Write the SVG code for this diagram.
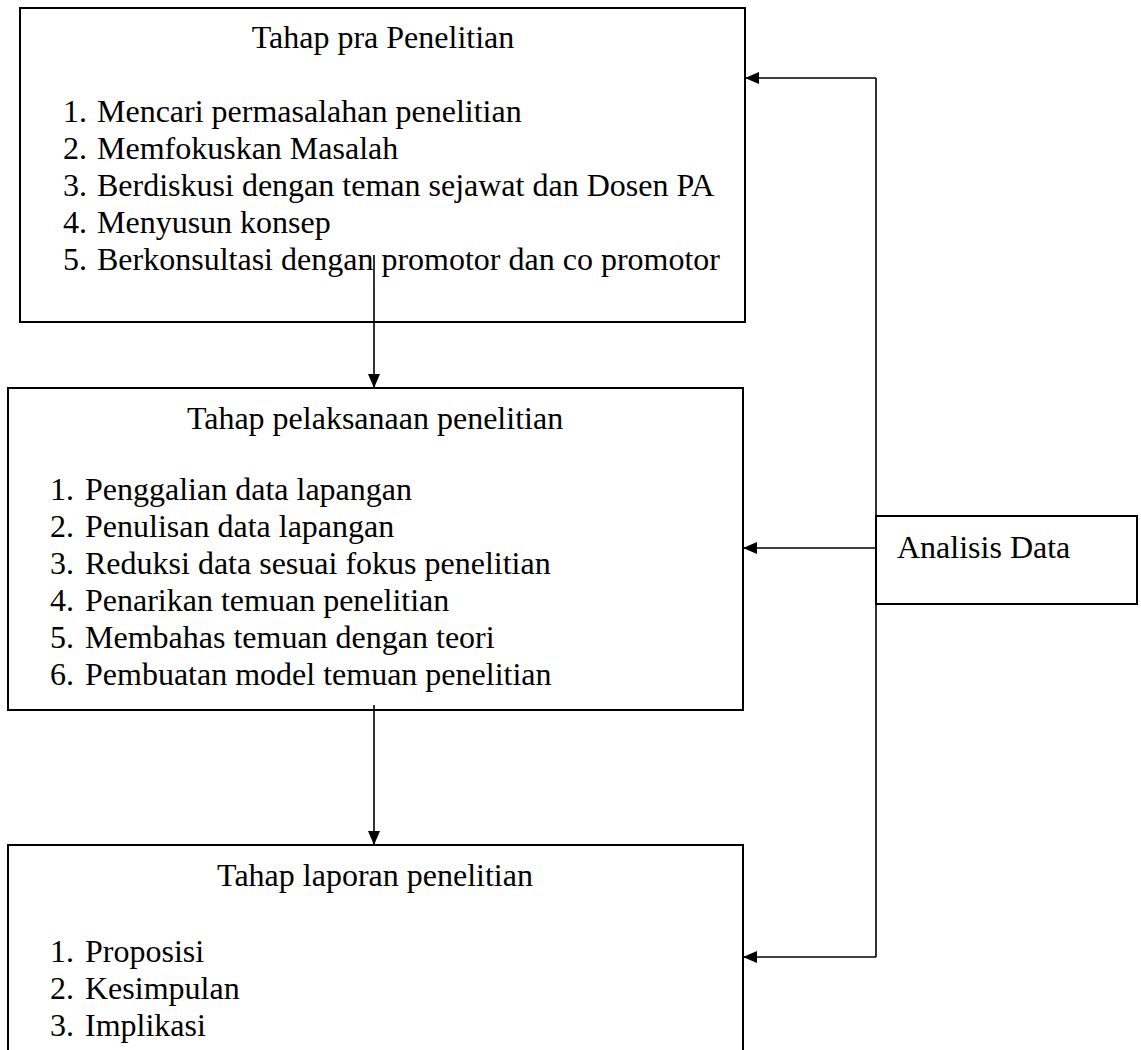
<svg xmlns="http://www.w3.org/2000/svg" width="1141" height="1050" viewBox="0 0 1141 1050">
<style>
.box{fill:#fff;stroke:#000;stroke-width:2}
.t{font-family:"Liberation Serif","Times New Roman",serif;font-size:32px;fill:#000}
.c{text-anchor:middle}
.ln{stroke:#000;stroke-width:1.6;fill:none}
</style>
<defs>
<marker id="ah" markerWidth="14" markerHeight="12" refX="14" refY="6" orient="auto" markerUnits="userSpaceOnUse">
<path d="M0,0 L14,6 L0,12 Z" fill="#000"/>
</marker>
</defs>
<rect width="1141" height="1050" fill="#fff"/>
<g id="node-pra">
<rect class="box" x="20" y="8" width="725" height="314"/>
<text class="t c" x="383" y="48">Tahap pra Penelitian</text>
<text class="t" x="63" y="122">1.</text><text class="t" x="97" y="122">Mencari permasalahan penelitian</text>
<text class="t" x="63" y="159">2.</text><text class="t" x="97" y="159">Memfokuskan Masalah</text>
<text class="t" x="63" y="196">3.</text><text class="t" x="97" y="196">Berdiskusi dengan teman sejawat dan Dosen PA</text>
<text class="t" x="63" y="233">4.</text><text class="t" x="97" y="233">Menyusun konsep</text>
<text class="t" x="63" y="270">5.</text><text class="t" x="97" y="270">Berkonsultasi dengan promotor dan co promotor</text>
</g>
<g id="node-pelaksanaan">
<rect class="box" x="8" y="388" width="735" height="322"/>
<text class="t c" x="375" y="429">Tahap pelaksanaan penelitian</text>
<text class="t" x="50" y="500">1.</text><text class="t" x="85" y="500">Penggalian data lapangan</text>
<text class="t" x="50" y="537">2.</text><text class="t" x="85" y="537">Penulisan data lapangan</text>
<text class="t" x="50" y="574">3.</text><text class="t" x="85" y="574">Reduksi data sesuai fokus penelitian</text>
<text class="t" x="50" y="611">4.</text><text class="t" x="85" y="611">Penarikan temuan penelitian</text>
<text class="t" x="50" y="648">5.</text><text class="t" x="85" y="648">Membahas temuan dengan teori</text>
<text class="t" x="50" y="685">6.</text><text class="t" x="85" y="685">Pembuatan model temuan penelitian</text>
</g>
<g id="node-laporan">
<rect class="box" x="8" y="845" width="735" height="215"/>
<text class="t c" x="375" y="886">Tahap laporan penelitian</text>
<text class="t" x="50" y="962">1.</text><text class="t" x="85" y="962">Proposisi</text>
<text class="t" x="50" y="999">2.</text><text class="t" x="85" y="999">Kesimpulan</text>
<text class="t" x="50" y="1036">3.</text><text class="t" x="85" y="1036">Implikasi</text>
</g>
<g id="node-analisis">
<rect class="box" x="876" y="516" width="261" height="88"/>
<text class="t" x="897" y="558">Analisis Data</text>
</g>
<g id="connectors">
<line class="ln" x1="374" y1="255" x2="374" y2="388" marker-end="url(#ah)"/>
<line class="ln" x1="374" y1="705" x2="374" y2="845" marker-end="url(#ah)"/>
<line class="ln" x1="876" y1="78" x2="876" y2="957"/>
<line class="ln" x1="876" y1="78" x2="745" y2="78" marker-end="url(#ah)"/>
<line class="ln" x1="876" y1="548" x2="743" y2="548" marker-end="url(#ah)"/>
<line class="ln" x1="876" y1="957" x2="743" y2="957" marker-end="url(#ah)"/>
</g>
</svg>
